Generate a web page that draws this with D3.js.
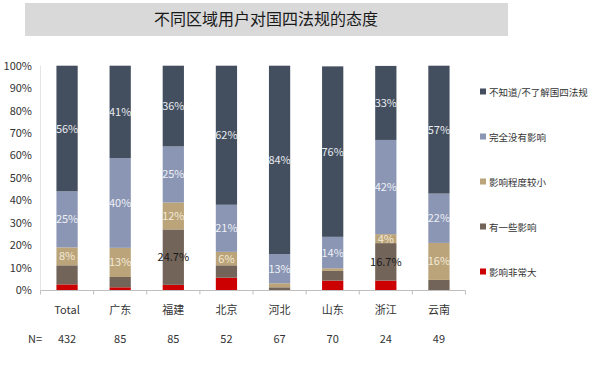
<!DOCTYPE html>
<html>
<head>
<meta charset="utf-8">
<script src="https://cdn.jsdelivr.net/npm/d3@7"></script>
<style>
  body { margin: 0; background: #fff; }
  text { font-family: "Liberation Sans Narrow", "Noto Sans CJK SC", sans-serif; }
  .cjk { font-family: "Noto Sans CJK SC", sans-serif; }
</style>
</head>
<body>
<svg id="chart" width="600" height="367"></svg>
<script>
// categories and sample sizes
const regions = ["Total", "广东", "福建", "北京", "河北", "山东", "浙江", "云南"]
const sampleN = [432, 85, 85, 52, 67, 70, 24, 49]

// series, stacked from the bottom up (percent)
const seriesNames = ["影响非常大", "有一些影响", "影响程度较小", "完全没有影响", "不知道/不了解国四法规"]
const veryLarge  = [2.5, 1.2, 2.3, 5.5, 0,   4.2, 4.2, 0]
const some       = [8.5, 4.6, 24.7, 5.5, 1.2, 4.3, 16.7, 4.5]
const small      = [8,   13,  12,  6,   1.8, 1.2, 4,   16.5]
const noEffect   = [25,  40,  25,  21,  13,  14,  42,  22]
const unknown    = [56,  41.2, 36, 62,  84,  76,  33,  57]

// printed labels (null = not shown)
const someLabels     = [null, null, "24.7%", null, null, null, "16.7%", null]
const smallLabels    = ["8%", "13%", "12%", "6%", null, null, "4%", "16%"]
const noEffectLabels = ["25%", "40%", "25%", "21%", "13%", "14%", "42%", "22%"]
const unknownLabels  = ["56%", "41%", "36%", "62%", "84%", "76%", "33%", "57%"]

const yTicks = [0, 10, 20, 30, 40, 50, 60, 70, 80, 90, 100]

const colors = ["#cc0000", "#726459", "#bba47a", "#8b96b4", "#434e5e"]
const labelColors = [null, "#1a1a1a", "#f3ead6", "#eef0f6", "#e8ebf0"]

const seriesValues = [veryLarge, some, small, noEffect, unknown]
const seriesLabels = [null, someLabels, smallLabels, noEffectLabels, unknownLabels]

const svg = d3.select("#chart")

// title bar
svg.append("rect").attr("x", 25).attr("y", 3).attr("width", 483).attr("height", 33).attr("fill", "#d9d9d9")
svg.append("text").attr("class", "cjk").attr("x", 266).attr("y", 25)
  .attr("text-anchor", "middle").attr("font-size", 16).attr("fill", "#1a1a1a")
  .text("不同区域用户对国四法规的态度")

const x = d3.scaleBand().domain(regions).range([40.5, 465.5]).paddingInner(0.6).paddingOuter(0.3)
const y = d3.scaleLinear().domain([0, 100]).range([290, 65.7])

// build stacked table
const table = regions.map((r, i) => {
  const row = { region: r }
  seriesNames.forEach((s, k) => { row[s] = seriesValues[k][i] })
  return row
})
const stacked = d3.stack().keys(seriesNames)(table)

// y axis labels
svg.append("g").selectAll("text").data(yTicks).join("text")
  .attr("x", 32).attr("y", d => y(d) + 4)
  .attr("text-anchor", "end").attr("font-size", 11).attr("fill", "#333")
  .text(d => d + "%")

svg.append("line").attr("x1", 40.5).attr("x2", 40.5).attr("y1", y(100)).attr("y2", y(0))
  .attr("stroke", "#e4e4e4")

// bars
stacked.forEach((layer, k) => {
  svg.append("g").selectAll("rect").data(layer).join("rect")
    .attr("x", d => x(d.data.region))
    .attr("width", x.bandwidth())
    .attr("y", d => y(d[1]))
    .attr("height", d => y(d[0]) - y(d[1]))
    .attr("fill", colors[k])
})

// segment labels
stacked.forEach((layer, k) => {
  const labels = seriesLabels[k]
  if (!labels) return
  svg.append("g").selectAll("text").data(layer.filter((d, i) => labels[i]))
    .join("text")
    .attr("x", d => x(d.data.region) + x.bandwidth() / 2)
    .attr("y", d => y((d[0] + d[1]) / 2) + 4)
    .attr("text-anchor", "middle").attr("font-size", 11)
    .attr("fill", labelColors[k])
    .text(d => labels[regions.indexOf(d.data.region)])
})

// x axis line and ticks between categories
const step = x.step()
const left = 40.5
svg.append("line").attr("x1", left).attr("x2", 465.5).attr("y1", 290.5).attr("y2", 290.5)
  .attr("stroke", "#bfbfbf")
svg.append("g").selectAll("line").data(d3.range(regions.length + 1)).join("line")
  .attr("x1", i => left + i * step).attr("x2", i => left + i * step)
  .attr("y1", 290.5).attr("y2", 294.5).attr("stroke", "#bfbfbf")

// category labels
svg.append("g").selectAll("text").data(regions).join("text")
  .attr("x", d => x(d) + x.bandwidth() / 2).attr("y", 314)
  .attr("text-anchor", "middle").attr("font-size", 11).attr("fill", "#333")
  .text(d => d)

// sample sizes
svg.append("text").attr("x", 35).attr("y", 343).attr("text-anchor", "middle")
  .attr("font-size", 11).attr("fill", "#333").text("N=")
svg.append("g").selectAll("text").data(sampleN).join("text")
  .attr("x", (d, i) => x(regions[i]) + x.bandwidth() / 2).attr("y", 343)
  .attr("text-anchor", "middle").attr("font-size", 11).attr("fill", "#333")
  .text(d => d)

// legend, top item is last series
const legendOrder = d3.range(seriesNames.length).reverse()
const legend = svg.append("g").selectAll("g").data(legendOrder).join("g")
  .attr("transform", (d, i) => `translate(480, ${92 + i * 45})`)
legend.append("rect").attr("x", 0).attr("y", -3.5).attr("width", 6).attr("height", 6)
  .attr("fill", d => colors[d])
legend.append("text").attr("class", "cjk").attr("x", 9).attr("y", 3.5)
  .attr("font-size", 9.5).attr("fill", "#333")
  .text(d => seriesNames[d])
</script>
</body>
</html>
